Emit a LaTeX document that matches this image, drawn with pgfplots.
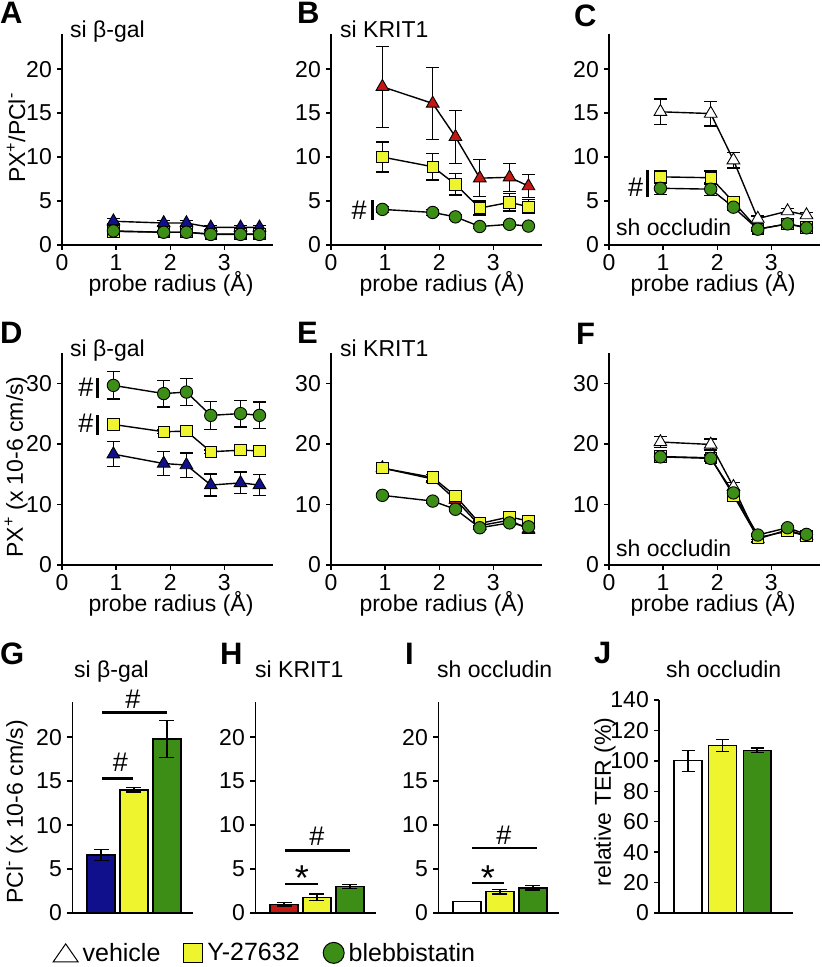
\documentclass[border=0pt]{standalone}
\usepackage{fontspec}
\setmainfont{Liberation Sans}
\usepackage{pgfplots}
\pgfplotsset{compat=1.18}
\definecolor{ylw}{RGB}{238,244,45}
\definecolor{grn}{RGB}{60,142,22}
\definecolor{blu}{RGB}{16,16,140}
\definecolor{rd}{RGB}{196,24,18}
\newcommand{\fs}{\fontsize{23}{27}\selectfont}
\newcommand{\hs}{\fontsize{27}{27}\selectfont}
\pgfplotsset{
 base/.style={scale only axis, axis lines=left, axis line style={-, line width=1.4pt, black},
   tick align=outside, major tick length=5pt, tick style={line width=1.4pt, black},
   /pgf/number format/assume math mode=true, tick label style={font=\fs},
   xticklabel style={inner sep=1pt, yshift=-3.5pt}, yticklabel style={inner sep=1pt, xshift=-4pt}, clip=false},
 lineax/.style={base, xmin=0, xmax=3.9, ymin=0, width=211pt, xtick={0,1,2,3}},
 row1/.style={lineax, ymax=24, height=211pt, ytick={0,5,10,15,20}},
 row2/.style={lineax, ymax=35, height=212pt, ytick={0,10,20,30}},
 barax/.style={base, ymin=0, ymax=24, height=211pt, width=121pt, xmin=0.12, xmax=3.79, xtick=\empty, ytick={0,5,10,15,20},
   y axis line style={line width=0.8pt}},
 eb/.style={error bars/y dir=both, error bars/y explicit,
   error bars/error bar style={line width=1.3pt, solid, black},
   error bars/error mark options={rotate=90, mark size=6.5pt, line width=1.3pt, black}},
 beb/.style={error bars/y dir=both, error bars/y explicit,
   error bars/error bar style={line width=1.3pt, solid, black},
   error bars/error mark options={rotate=90, mark size=7.5pt, line width=1.3pt, black}},
 tri/.style={black, line width=1.4pt, mark=triangle*, mark size=7.3pt, mark options={solid, fill=#1, draw=black, line width=0.9pt}},
 sq/.style={black, line width=1.4pt, mark=square*, mark size=5.7pt, mark options={solid, fill=ylw, draw=black, line width=0.9pt}},
 cir/.style={black, line width=1.4pt, mark=*, mark size=6.2pt, mark options={solid, fill=grn, draw=black, line width=0.9pt}},
 br/.style={ybar, bar width=0.85, bar shift=0pt, fill=#1, draw=black, line width=1.2pt, forget plot},
}
\begin{document}
\begin{tikzpicture}[x=1pt,y=1pt,font=\fs]
\useasboundingbox (0,0) rectangle (822,967);

% ---------- A ----------
\begin{axis}[row1, at={(62pt,722pt)}, anchor=south west]
\addplot[tri=blu, eb] coordinates {(0.95,2.7) +- (0,0.3) (1.88,2.5) +- (0,0.25) (2.3,2.5) +- (0,0.25) (2.75,2.0) +- (0,0.2) (3.3,2.0) +- (0,0.2) (3.65,2.0) +- (0,0.2)};
\addplot[sq, eb] coordinates {(0.95,1.55) +- (0,0.15) (1.88,1.45) +- (0,0.15) (2.3,1.45) +- (0,0.15) (2.75,1.25) +- (0,0.15) (3.3,1.25) +- (0,0.15) (3.65,1.25) +- (0,0.15)};
\addplot[cir, eb] coordinates {(0.95,1.6) +- (0,0.15) (1.88,1.45) +- (0,0.15) (2.3,1.45) +- (0,0.15) (2.75,1.2) +- (0,0.15) (3.3,1.2) +- (0,0.15) (3.65,1.2) +- (0,0.15)};
\end{axis}

% ---------- B ----------
\begin{axis}[row1, at={(331pt,722pt)}, anchor=south west]
\addplot[tri=rd, eb] coordinates {(0.95,18.0) +- (0,4.6) (1.88,16.1) +- (0,4.1) (2.3,12.3) +- (0,3.0) (2.75,7.6) +- (0,2.1) (3.3,7.7) +- (0,1.6) (3.65,6.7) +- (0,1.3)};
\addplot[sq, eb] coordinates {(0.95,10.0) +- (0,1.7) (1.88,8.9) +- (0,1.5) (2.3,6.9) +- (0,1.2) (2.75,4.2) +- (0,0.8) (3.3,4.85) +- (0,1.0) (3.65,4.35) +- (0,0.8)};
\addplot[cir, eb] coordinates {(0.95,4.05) +- (0,0.35) (1.88,3.7) +- (0,0.35) (2.3,3.2) +- (0,0.3) (2.75,2.1) +- (0,0.2) (3.3,2.35) +- (0,0.2) (3.65,2.15) +- (0,0.2)};
\node[font=\hs] at (axis cs:0.52,4.0) {\#};
\draw[line width=3pt] (axis cs:0.76,5.1) -- (axis cs:0.76,2.8);
\end{axis}

% ---------- C ----------
\begin{axis}[row1, at={(609pt,722pt)}, anchor=south west]
\addplot[tri=white, eb] coordinates {(0.95,15.15) +- (0,1.45) (1.88,14.95) +- (0,1.4) (2.3,9.65) +- (0,0.9) (2.75,3.0) +- (0,0.3) (3.3,3.85) +- (0,0.3) (3.65,3.4) +- (0,0.3)};
\addplot[sq, eb] coordinates {(0.95,7.75) +- (0,0.75) (1.88,7.65) +- (0,0.75) (2.3,4.9) +- (0,0.5) (2.75,1.8) +- (0,0.2) (3.3,2.4) +- (0,0.2) (3.65,2.0) +- (0,0.2)};
\addplot[cir, eb] coordinates {(0.95,6.45) +- (0,0.7) (1.88,6.35) +- (0,0.7) (2.3,4.3) +- (0,0.4) (2.75,1.8) +- (0,0.2) (3.3,2.4) +- (0,0.2) (3.65,1.95) +- (0,0.2)};
\node[font=\hs] at (axis cs:0.49,6.6) {\#};
\draw[line width=3pt] (axis cs:0.72,8.5) -- (axis cs:0.72,5.45);
\end{axis}

% ---------- D ----------
\begin{axis}[row2, at={(62pt,402pt)}, anchor=south west]
\addplot[tri=blu, eb] coordinates {(0.95,18.3) +- (0,2.05) (1.88,16.75) +- (0,1.95) (2.3,16.5) +- (0,2.0) (2.75,13.2) +- (0,1.8) (3.3,13.55) +- (0,1.8) (3.65,13.2) +- (0,1.7)};
\addplot[sq, eb] coordinates {(0.95,23.2) +- (0,0.4) (1.88,22.0) +- (0,0.3) (2.3,22.1) +- (0,0.3) (2.75,18.7) +- (0,0.3) (3.3,18.95) +- (0,0.3) (3.65,18.85) +- (0,0.3)};
\addplot[cir, eb] coordinates {(0.95,29.65) +- (0,2.25) (1.88,28.3) +- (0,2.2) (2.3,28.55) +- (0,2.2) (2.75,24.7) +- (0,2.3) (3.3,25.0) +- (0,2.2) (3.65,24.7) +- (0,2.2)};
\node[font=\hs] at (axis cs:0.44,29.3) {\#};
\draw[line width=3pt] (axis cs:0.66,30.8) -- (axis cs:0.66,27.5);
\node[font=\hs] at (axis cs:0.44,23.4) {\#};
\draw[line width=3pt] (axis cs:0.66,24.7) -- (axis cs:0.66,21.4);
\end{axis}

% ---------- E ----------
\begin{axis}[row2, at={(331pt,402pt)}, anchor=south west]
\addplot[tri=rd, eb] coordinates {(0.95,16.0) +- (0,0.4) (1.88,14.2) +- (0,0.4) (2.3,10.8) +- (0,0.6) (2.75,6.5) +- (0,0.5) (3.3,7.4) +- (0,0.5) (3.65,5.9) +- (0,0.6)};
\addplot[sq, eb] coordinates {(0.95,16.0) +- (0,0.5) (1.88,14.45) +- (0,0.5) (2.3,11.4) +- (0,0.6) (2.75,6.85) +- (0,0.4) (3.3,7.95) +- (0,0.4) (3.65,7.25) +- (0,0.4)};
\addplot[cir, eb] coordinates {(0.95,11.5) +- (0,0.3) (1.88,10.55) +- (0,0.3) (2.3,9.2) +- (0,0.4) (2.75,6.15) +- (0,0.3) (3.3,6.95) +- (0,0.3) (3.65,6.3) +- (0,0.3)};
\end{axis}

% ---------- F ----------
\begin{axis}[row2, at={(609pt,402pt)}, anchor=south west]
\addplot[tri=white, eb] coordinates {(0.95,20.3) +- (0,0.9) (1.88,19.9) +- (0,0.9) (2.3,12.9) +- (0,0.7) (2.75,4.3) +- (0,0.4) (3.3,5.8) +- (0,0.4) (3.65,4.8) +- (0,0.4)};
\addplot[sq, eb] coordinates {(0.95,17.9) +- (0,0.5) (1.88,17.7) +- (0,0.5) (2.3,11.5) +- (0,0.6) (2.75,4.5) +- (0,0.3) (3.3,5.6) +- (0,0.3) (3.65,4.8) +- (0,0.3)};
\addplot[cir, eb] coordinates {(0.95,17.85) +- (0,0.5) (1.88,17.6) +- (0,0.5) (2.3,11.9) +- (0,0.5) (2.75,4.95) +- (0,0.3) (3.3,6.15) +- (0,0.3) (3.65,5.05) +- (0,0.3)};
\end{axis}

% ---------- G ----------
\begin{axis}[barax, at={(72pt,54pt)}, anchor=south west,
  legend style={at={(-0.157,-0.189)}, anchor=west, draw=none, fill=none, inner sep=0pt,
    font=\fontsize{25}{29}\selectfont, nodes={inner sep=1.5pt},
    /tikz/every odd column/.append style={column sep=3pt},
    /tikz/every even column/.append style={column sep=22pt}},
  legend columns=3,
  legend image code/.code={\draw[#1] plot coordinates {(0pt,0pt)};}]
\addplot[br=blu, beb] coordinates {(1,6.6) +- (0,0.6)};
\addplot[br=ylw, beb] coordinates {(2,14.0) +- (0,0.25)};
\addplot[br=grn, beb] coordinates {(3,19.8) +- (0,2.1)};
\draw[line width=2.5pt] (axis cs:1.03,22.8) -- (axis cs:3.0,22.8);
\node[font=\hs] at (axis cs:1.97,24.3) {\#};
\draw[line width=2.5pt] (axis cs:1.03,15.3) -- (axis cs:1.97,15.3);
\node[font=\hs] at (axis cs:1.59,17.1) {\#};
\addlegendimage{only marks, mark=triangle, mark size=12pt, mark options={draw=black, fill=white, line width=1pt, xscale=1.2, yshift=-3pt}}
\addlegendentry{vehicle}
\addlegendimage{only marks, mark=square*, mark size=9.5pt, mark options={draw=black, fill=ylw, line width=1pt}}
\addlegendentry{Y-27632}
\addlegendimage{only marks, mark=*, mark size=10.5pt, mark options={draw=black, fill=grn, line width=1pt}}
\addlegendentry{blebbistatin}
\end{axis}

% ---------- H ----------
\begin{axis}[barax, at={(255pt,54pt)}, anchor=south west]
\addplot[br=rd, beb] coordinates {(1,1.0) +- (0,0.2)};
\addplot[br=ylw, beb] coordinates {(2,1.8) +- (0,0.35)};
\addplot[br=grn, beb] coordinates {(3,3.0) +- (0,0.25)};
\draw[line width=2.5pt] (axis cs:1.03,7.1) -- (axis cs:3.0,7.1);
\node[font=\hs] at (axis cs:2.0,8.7) {\#};
\draw[line width=2.5pt] (axis cs:1.03,3.3) -- (axis cs:2.03,3.3);
\node[font=\fontsize{36}{36}\selectfont] at (axis cs:1.54,4.0) {*};
\end{axis}

% ---------- I ----------
\begin{axis}[barax, at={(438pt,54pt)}, anchor=south west]
\addplot[br=white] coordinates {(1,1.35)};
\addplot[br=ylw, beb] coordinates {(2,2.4) +- (0,0.25)};
\addplot[br=grn, beb] coordinates {(3,2.85) +- (0,0.25)};
\draw[line width=2.5pt] (axis cs:1.15,7.4) -- (axis cs:3.12,7.4);
\node[font=\hs] at (axis cs:2.12,8.85) {\#};
\draw[line width=2.5pt] (axis cs:1.15,3.4) -- (axis cs:2.12,3.4);
\node[font=\fontsize{36}{36}\selectfont] at (axis cs:1.63,4.0) {*};
\end{axis}

% ---------- J ----------
\begin{axis}[base, at={(659pt,54pt)}, anchor=south west, width=134pt, height=213pt,
  xmin=0.16, xmax=4.04, ymin=0, ymax=140, xtick=\empty, ytick={0,20,...,140},
  y axis line style={line width=1.4pt}]
\addplot[ybar, bar width=0.81, bar shift=0pt, fill=white, draw=black, line width=1.2pt, eb] coordinates {(1,100) +- (0,7)};
\addplot[ybar, bar width=0.81, bar shift=0pt, fill=ylw, draw=black, line width=1.2pt, eb] coordinates {(2,110) +- (0,4)};
\addplot[ybar, bar width=0.81, bar shift=0pt, fill=grn, draw=black, line width=1.2pt, eb] coordinates {(3,107) +- (0,1.5)};
\end{axis}

% ---------- texts ----------
\begin{scope}[every node/.style={inner sep=0pt}]
\node[anchor=base west] at (70,929) {si β-gal};
\node[anchor=base west] at (340,929) {si KRIT1};
\node[anchor=base west] at (616,731) {sh occludin};
\node[anchor=base west] at (70,610) {si β-gal};
\node[anchor=base west] at (340,610) {si KRIT1};
\node[anchor=base west] at (616,410) {sh occludin};
\node[anchor=base west] at (74,289) {si β-gal};
\node[anchor=base west] at (255,289) {si KRIT1};
\node[anchor=base west] at (437,289) {sh occludin};
\node[anchor=base west] at (666,289) {sh occludin};
\node[anchor=base] at (171,675) {probe radius (Å)};
\node[anchor=base] at (442,675) {probe radius (Å)};
\node[anchor=base] at (713,675) {probe radius (Å)};
\node[anchor=base] at (171,355) {probe radius (Å)};
\node[anchor=base] at (442,355) {probe radius (Å)};
\node[anchor=base] at (713,355) {probe radius (Å)};
\node[rotate=90] at (16,829) {PX\textsuperscript{+}/PCl\textsuperscript{-}};
\node[rotate=90] at (16,500) {PX\textsuperscript{+} (x 10-6 cm/s)};
\node[rotate=90] at (17,155) {PCl\textsuperscript{-} (x 10-6 cm/s)};
\node[rotate=90] at (605,165) {relative TER (\%)};
\end{scope}
\begin{scope}[every node/.style={inner sep=0pt, anchor=north west, font=\fontsize{31}{31}\selectfont\bfseries}]
\node at (0,965) {A};
\node at (297,965) {B};
\node at (574,962) {C};
\node at (0,645) {D};
\node at (297,645) {E};
\node at (576,644) {F};
\node at (0,324) {G};
\node at (220,324) {H};
\node at (405,324) {I};
\node at (594,325) {J};
\end{scope}
\end{tikzpicture}
\end{document}
